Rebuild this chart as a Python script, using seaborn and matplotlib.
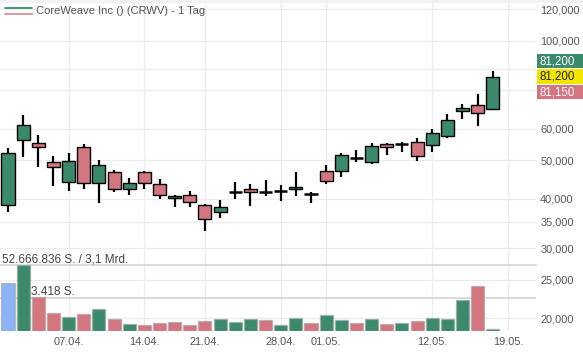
import numpy as np
import pandas as pd
import matplotlib
matplotlib.use("Agg")
import matplotlib.pyplot as plt
import seaborn as sns
from matplotlib.patches import Rectangle
from matplotlib.lines import Line2D
from matplotlib.ticker import NullLocator, FixedLocator

# ---------------- data ----------------
dates = ["01.04.", "02.04.", "03.04.", "04.04.",
         "07.04.", "08.04.", "09.04.", "10.04.", "11.04.",
         "14.04.", "15.04.", "16.04.", "17.04.",
         "21.04.", "22.04.", "23.04.", "24.04.", "25.04.",
         "28.04.", "29.04.", "30.04.",
         "01.05.", "02.05.",
         "05.05.", "06.05.", "07.05.", "08.05.", "09.05.",
         "12.05.", "13.05.", "14.05.", "15.05.", "16.05.",
         "19.05."]  # last entry: next trading day (axis only)

opens = [38.58, 56.14, 55.17, 49.42, 44.00, 53.90, 43.75, 46.63, 42.40, 46.63,
         43.50, 40.11, 40.81, 38.51, 36.98, 41.60, 42.26, 41.55, 41.84, 42.26,
         41.05, 46.99, 46.90, 50.75, 49.42, 54.94, 54.94, 55.68, 54.63, 57.65,
         66.53, 68.76, 67.42]
highs = [53.59, 65.01, 57.89, 51.25, 52.24, 54.94, 50.08, 47.26, 45.04, 46.99,
         44.78, 40.88, 41.84, 38.73, 39.71, 44.08, 43.57, 44.52, 43.32, 46.63,
         41.60, 48.65, 52.24, 53.07, 55.17, 55.36, 55.68, 56.99, 59.84, 65.31,
         69.16, 73.29, 83.89]
lows = [36.98, 51.04, 48.00, 43.15, 41.91, 42.26, 38.96, 41.67, 40.81, 42.26,
        39.88, 38.07, 38.07, 33.24, 35.72, 39.88, 38.42, 40.71, 39.55, 40.71,
        39.10, 43.57, 45.46, 49.42, 48.85, 51.40, 52.55, 49.88, 52.55, 56.99,
        63.51, 61.09, 66.92]
closes = [52.24, 61.34, 53.90, 48.00, 49.70, 43.75, 48.56, 42.26, 43.85, 43.70,
          40.81, 40.64, 39.26, 35.51, 38.20, 41.60, 41.70, 41.55, 41.84, 42.75,
          41.05, 44.41, 51.55, 50.75, 54.31, 53.90, 54.94, 51.34, 58.46, 63.04,
          67.82, 65.88, 81.20]
volumes = [5004, 6836, 3491, 1896, 1481, 1761, 2248, 1212, 725, 622,
           860, 932, 622, 1036, 1212, 963, 1212, 1108, 622, 1316,
           798, 1658, 1140, 798, 1212, 725, 798, 1036, 1378, 1274,
           3212, 4662, 200]

price_ticks = [120, 100, 60, 50, 40, 35, 30, 25, 20]
price_extra_grid = [85, 75]
date_tick_labels = ["07.04.", "14.04.", "21.04.", "28.04.", "01.05.", "12.05.", "19.05."]
vol_grid_value = 3418
vol_grid_label = "3.418 S."
vol_total_label = "52.666.836 S. / 3,1 Mrd."
title_text = "CoreWeave Inc () (CRWV) - 1 Tag"
tag_values = [81.200, 81.200, 81.150]

# ---------------- style ----------------
sns.set_theme(style="white")
plt.rcParams["font.family"] = ["Liberation Sans", "DejaVu Sans"]

GREEN = "#3b8a6c"
RED = "#d3767f"
BLUE = "#8ab4f4"
YELLOW = "#f2e600"
GRID = "#ececec"
TXT = "#555555"

W, H = 583, 353
fig = plt.figure(figsize=(W / 100, H / 100), dpi=100)
fig.patch.set_facecolor("white")

ax_right_px, ax_bottom_px = 536, 331
ax = fig.add_axes([0, 1 - ax_bottom_px / H, ax_right_px / W, ax_bottom_px / H])
vol_h_px = 66
vax = fig.add_axes([0, 1 - ax_bottom_px / H, ax_right_px / W, vol_h_px / H], sharex=ax)
vax.set_facecolor("none")

o = np.array(opens); h = np.array(highs); l = np.array(lows); c = np.array(closes)
n = len(o)
x = np.arange(n)

# ---------------- price panel ----------------
ax.set_yscale("log")
ax.set_ylim(18.58, 126.6)
px_per_day = 15.15
first_px = 8
xlim = (-first_px / px_per_day, (ax_right_px - first_px) / px_per_day)
ax.set_xlim(*xlim)

for v in price_ticks + price_extra_grid:
    ax.axhline(v, color=GRID, lw=1, zorder=0)
tick_pos = [dates.index(d) for d in date_tick_labels]
for p in tick_pos:
    ax.axvline(p, color=GRID, lw=1, zorder=0)

ax.vlines(x, l, h, color="black", lw=1.6, zorder=2)
body = o != c
up = c > o
ax.bar(x[body], np.abs(c - o)[body], bottom=np.minimum(o, c)[body], width=0.86,
       color=np.where(up, GREEN, RED)[body], edgecolor="black", linewidth=1.0, zorder=3)
doji = ~body
ax.hlines(o[doji], x[doji] - 0.43, x[doji] + 0.43, color="black", lw=1.8, zorder=3)

ax.yaxis.tick_right()
ax.yaxis.set_major_locator(FixedLocator(price_ticks))
ax.yaxis.set_minor_locator(NullLocator())
ax.set_yticklabels([f"{v:.3f}".replace(".", ",") for v in price_ticks])
ax.tick_params(axis="y", length=0, pad=3, labelsize=7.9, labelcolor=TXT)
ax.tick_params(axis="x", length=0, pad=4, labelsize=7.9, labelcolor=TXT)
for s in ax.spines.values():
    s.set_visible(False)
ax.set_xlabel(""); ax.set_ylabel("")

# ---------------- volume panel ----------------
vol_state = ["neutral"] + ["up" if c[i] >= c[i - 1] else "down" for i in range(1, n)]
vdf = pd.DataFrame({"idx": x, "vol": volumes, "state": vol_state})
sns.barplot(data=vdf, x="idx", y="vol", hue="state", native_scale=True,
            palette={"neutral": BLUE, "up": GREEN, "down": RED},
            width=0.86, dodge=False, saturation=1, errorbar=None, legend=False,
            edgecolor=(0.62, 0.62, 0.62, 0.55), linewidth=1.0, ax=vax, zorder=3)
vax.set_ylim(0, 2 * vol_grid_value)
vax.axhline(vol_grid_value, color="#dadada", lw=1.4, zorder=1)
vax.axhline(2 * vol_grid_value, color="#dadada", lw=1.4, zorder=1, clip_on=False)
vax.tick_params(left=False, bottom=False, labelleft=False, labelbottom=False)
vax.set_xlabel(""); vax.set_ylabel("")
for s in vax.spines.values():
    s.set_visible(False)
ax.set_xlim(*xlim)
ax.set_xticks(tick_pos)
ax.set_xticklabels(date_tick_labels)

fig.text(2 / W, 1 - 259 / H, vol_total_label, fontsize=8.5, color="#444444",
         ha="left", va="center")
fig.text(31 / W, 1 - 292 / H, vol_grid_label, fontsize=8.5, color="#444444",
         ha="left", va="center")

# ---------------- header / legend ----------------
fig.add_artist(Rectangle((0, 1 - 3 / H), 1, 3 / H, transform=fig.transFigure,
                         color="#f2f2f2", lw=0))
fig.add_artist(Line2D([5 / W, 32 / W], [1 - 8.2 / H, 1 - 8.2 / H],
                      transform=fig.transFigure, color=GREEN, lw=1.3))
fig.add_artist(Line2D([5 / W, 32 / W], [1 - 13.5 / H, 1 - 13.5 / H],
                      transform=fig.transFigure, color="#da8d96", lw=1.3))
fig.text(36 / W, 1 - 11.5 / H, title_text, fontsize=8.0, color=TXT,
         ha="left", va="center")

# ---------------- price tags ----------------
y_close_px = ax.transData.transform((0, tag_values[1]))[1]
tag_h = 15.5
tag_colors = [GREEN, YELLOW, RED]
tag_txt_colors = ["white", "#222222", "white"]
for k, (val, fc, tc) in enumerate(zip(tag_values, tag_colors, tag_txt_colors)):
    yc = y_close_px + (1 - k) * tag_h
    fig.add_artist(Rectangle((537 / W, (yc - tag_h / 2 + 0.5) / H), 46 / W, (tag_h - 1) / H,
                             transform=fig.transFigure, facecolor=fc, lw=0))
    fig.text(557 / W, yc / H, f"{val:.3f}".replace(".", ","), fontsize=8.3,
             color=tc, ha="center", va="center")

fig.savefig("out.png", dpi=100)
